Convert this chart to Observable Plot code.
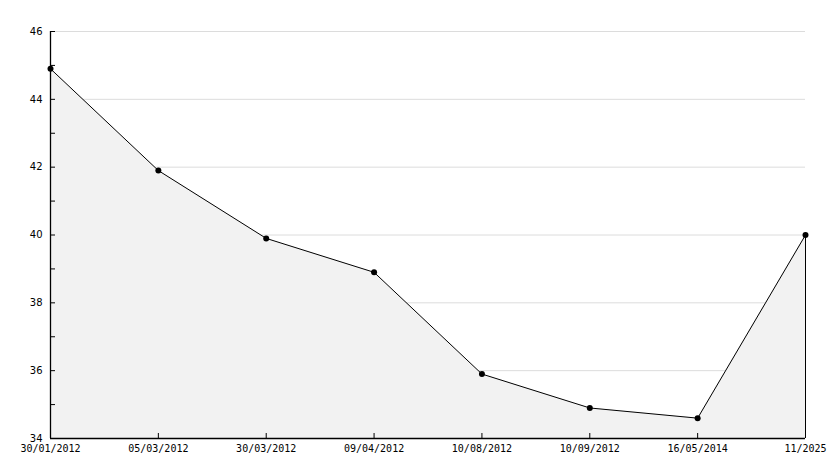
<!DOCTYPE html>
<html>
<head>
<meta charset="utf-8">
<script src="https://cdn.jsdelivr.net/npm/d3@7"></script>
<script src="https://cdn.jsdelivr.net/npm/@observablehq/plot@0.6"></script>
<style>
  html, body { margin: 0; padding: 0; background: #fff; }
  #chart svg { display: block; }
</style>
</head>
<body>
<div id="chart"></div>
<script>
const dates = ["30/01/2012", "05/03/2012", "30/03/2012", "09/04/2012", "10/08/2012", "10/09/2012", "16/05/2014", "11/2025"];
const values = [44.9, 41.9, 39.9, 38.9, 35.9, 34.9, 34.6, 40.0];
const yTicks = [34, 36, 38, 40, 42, 44, 46];
const yMinorTicks = [34, 35, 36, 37, 38, 39, 40, 41, 42, 43, 44, 45, 46];
const gridValues = [36, 38, 40, 42, 44, 46];

const data = dates.map((d, i) => ({date: d, value: values[i]}));
const last = data[data.length - 1];

const W = 834, H = 468;
const mL = 50, mR = 29, mT = 31, mB = 30;
const frameW = W - mL - mR, frameH = H - mT - mB;

const chart = Plot.plot({
  width: W,
  height: H,
  marginLeft: mL,
  marginRight: mR,
  marginTop: mT,
  marginBottom: mB,
  style: {fontFamily: "DejaVu Sans Mono", fontSize: "10px", color: "#000", background: "#fff"},
  x: {type: "point", domain: dates, padding: 0, align: 0, round: false, axis: null, label: null},
  y: {domain: [34, 46], axis: null, label: null},
  marks: [
    Plot.ruleY(gridValues, {y: d => d, stroke: "#dcdcdc", strokeWidth: 1}),
    Plot.areaY(data, {x: "date", y1: 34, y2: "value", fill: "#f2f2f2"}),
    Plot.lineY(data, {x: "date", y: "value", stroke: "#000", strokeWidth: 1, curve: "linear"}),
    Plot.ruleX([last], {x: "date", y1: 34, y2: "value", stroke: "#000", strokeWidth: 1}),
    Plot.ruleY([34], {stroke: "#000", strokeWidth: 1.3}),
    Plot.ruleX([dates[0]], {x: d => d, stroke: "#000", strokeWidth: 1.3}),
    Plot.tickY(yMinorTicks, {y: d => d, stroke: "#000", insetRight: frameW - 5}),
    Plot.tickX(dates, {x: d => d, stroke: "#000", insetTop: frameH - 5}),
    Plot.dot(data, {x: "date", y: "value", r: 3, fill: "#000", stroke: "none"}),
    Plot.axisY(yTicks, {anchor: "left", tickSize: 0, tickPadding: 8, fontSize: 10, fontFamily: "DejaVu Sans", label: null}),
    Plot.axisX(dates, {anchor: "bottom", tickSize: 0, tickPadding: 6, fontSize: 10, fontFamily: "DejaVu Sans Mono", label: null})
  ]
});
document.getElementById("chart").appendChild(chart);
</script>
</body>
</html>
